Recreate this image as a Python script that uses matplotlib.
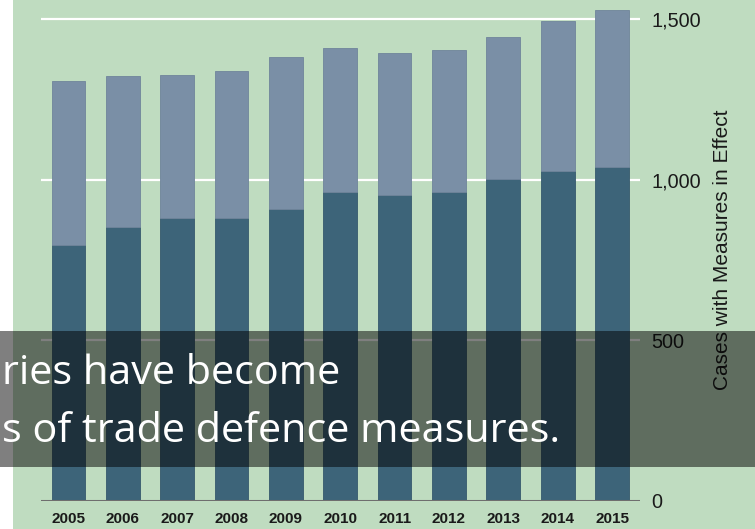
import numpy as np
import matplotlib
matplotlib.use("Agg")
import matplotlib.pyplot as plt
from matplotlib.patches import Rectangle

# data
years = ["2005", "2006", "2007", "2008", "2009", "2010", "2011", "2012", "2013", "2014", "2015"]
dark_part = [797, 853, 879, 879, 910, 961, 953, 963, 1003, 1027, 1041]
totals = [1309, 1323, 1327, 1340, 1382, 1410, 1394, 1403, 1446, 1494, 1529]
light_part = [t - d for t, d in zip(totals, dark_part)]
yticks = [0, 500, 1000, 1500]
ytick_labels = ["0", "500", "1,000", "1,500"]

W, H = 755, 529
bg_green = "#bfdcc0"
dark_col = "#3d6479"
light_col = "#7a8fa6"

fig = plt.figure(figsize=(W / 100, H / 100), dpi=100)
fig.patch.set_facecolor("white")
# green slide background (white strip on the far left)
fig.patches.append(Rectangle((13 / W, 0), 1 - 13 / W, 1, transform=fig.transFigure,
                             facecolor=bg_green, edgecolor="none", zorder=-1))

ax = fig.add_axes([41 / W, (H - 500.5) / H, (640 - 41) / W, 500.5 / H])
ax.set_facecolor("none")
x = np.arange(len(years))
ax.bar(x, dark_part, width=0.62, color=dark_col, edgecolor="#36596d", linewidth=0.6, zorder=3)
ax.bar(x, light_part, bottom=dark_part, width=0.62, color=light_col,
       edgecolor="#6f849b", linewidth=0.6, zorder=3)

ax.set_xlim(-0.505, 10.514)
ax.set_ylim(0, 1560)
for v in yticks[1:]:
    ax.axhline(v, color="white", lw=1.6, zorder=1)
ax.axhline(0, color="#6e6e6e", lw=2.2, zorder=4)

for s in ax.spines.values():
    s.set_visible(False)
ax.yaxis.tick_right()
ax.set_yticks(yticks)
ax.set_yticklabels(ytick_labels, fontsize=14.3, color="#1a1a1a", family="Liberation Sans")
ax.tick_params(axis="y", length=0, pad=8)
ax.set_xticks(x)
ax.set_xticklabels(years, fontsize=11, fontweight="bold", color="#1a1a1a", family="Liberation Sans")
ax.tick_params(axis="x", length=0, pad=8)

fig.text(723 / W, 1 - 250 / H, "Cases with Measures in Effect", rotation=90,
         ha="center", va="center", fontsize=15, color="#1a1a1a", family="Liberation Sans")

# dark translucent caption band over the chart
fig.patches.append(Rectangle((0, 1 - 466.7 / H), 1, 135.7 / H, transform=fig.transFigure,
                             facecolor="black", alpha=0.5, edgecolor="none", zorder=5))
fig.text(2 / W, 1 - 384.3 / H, "ries have become", color="white", fontsize=29.8,
         family="Open Sans", ha="left", va="baseline", zorder=6)
fig.text(2 / W, 1 - 442.3 / H, "s of trade defence measures.", color="white", fontsize=29.8,
         family="Open Sans", ha="left", va="baseline", zorder=6)

fig.savefig("out.png", dpi=100)
